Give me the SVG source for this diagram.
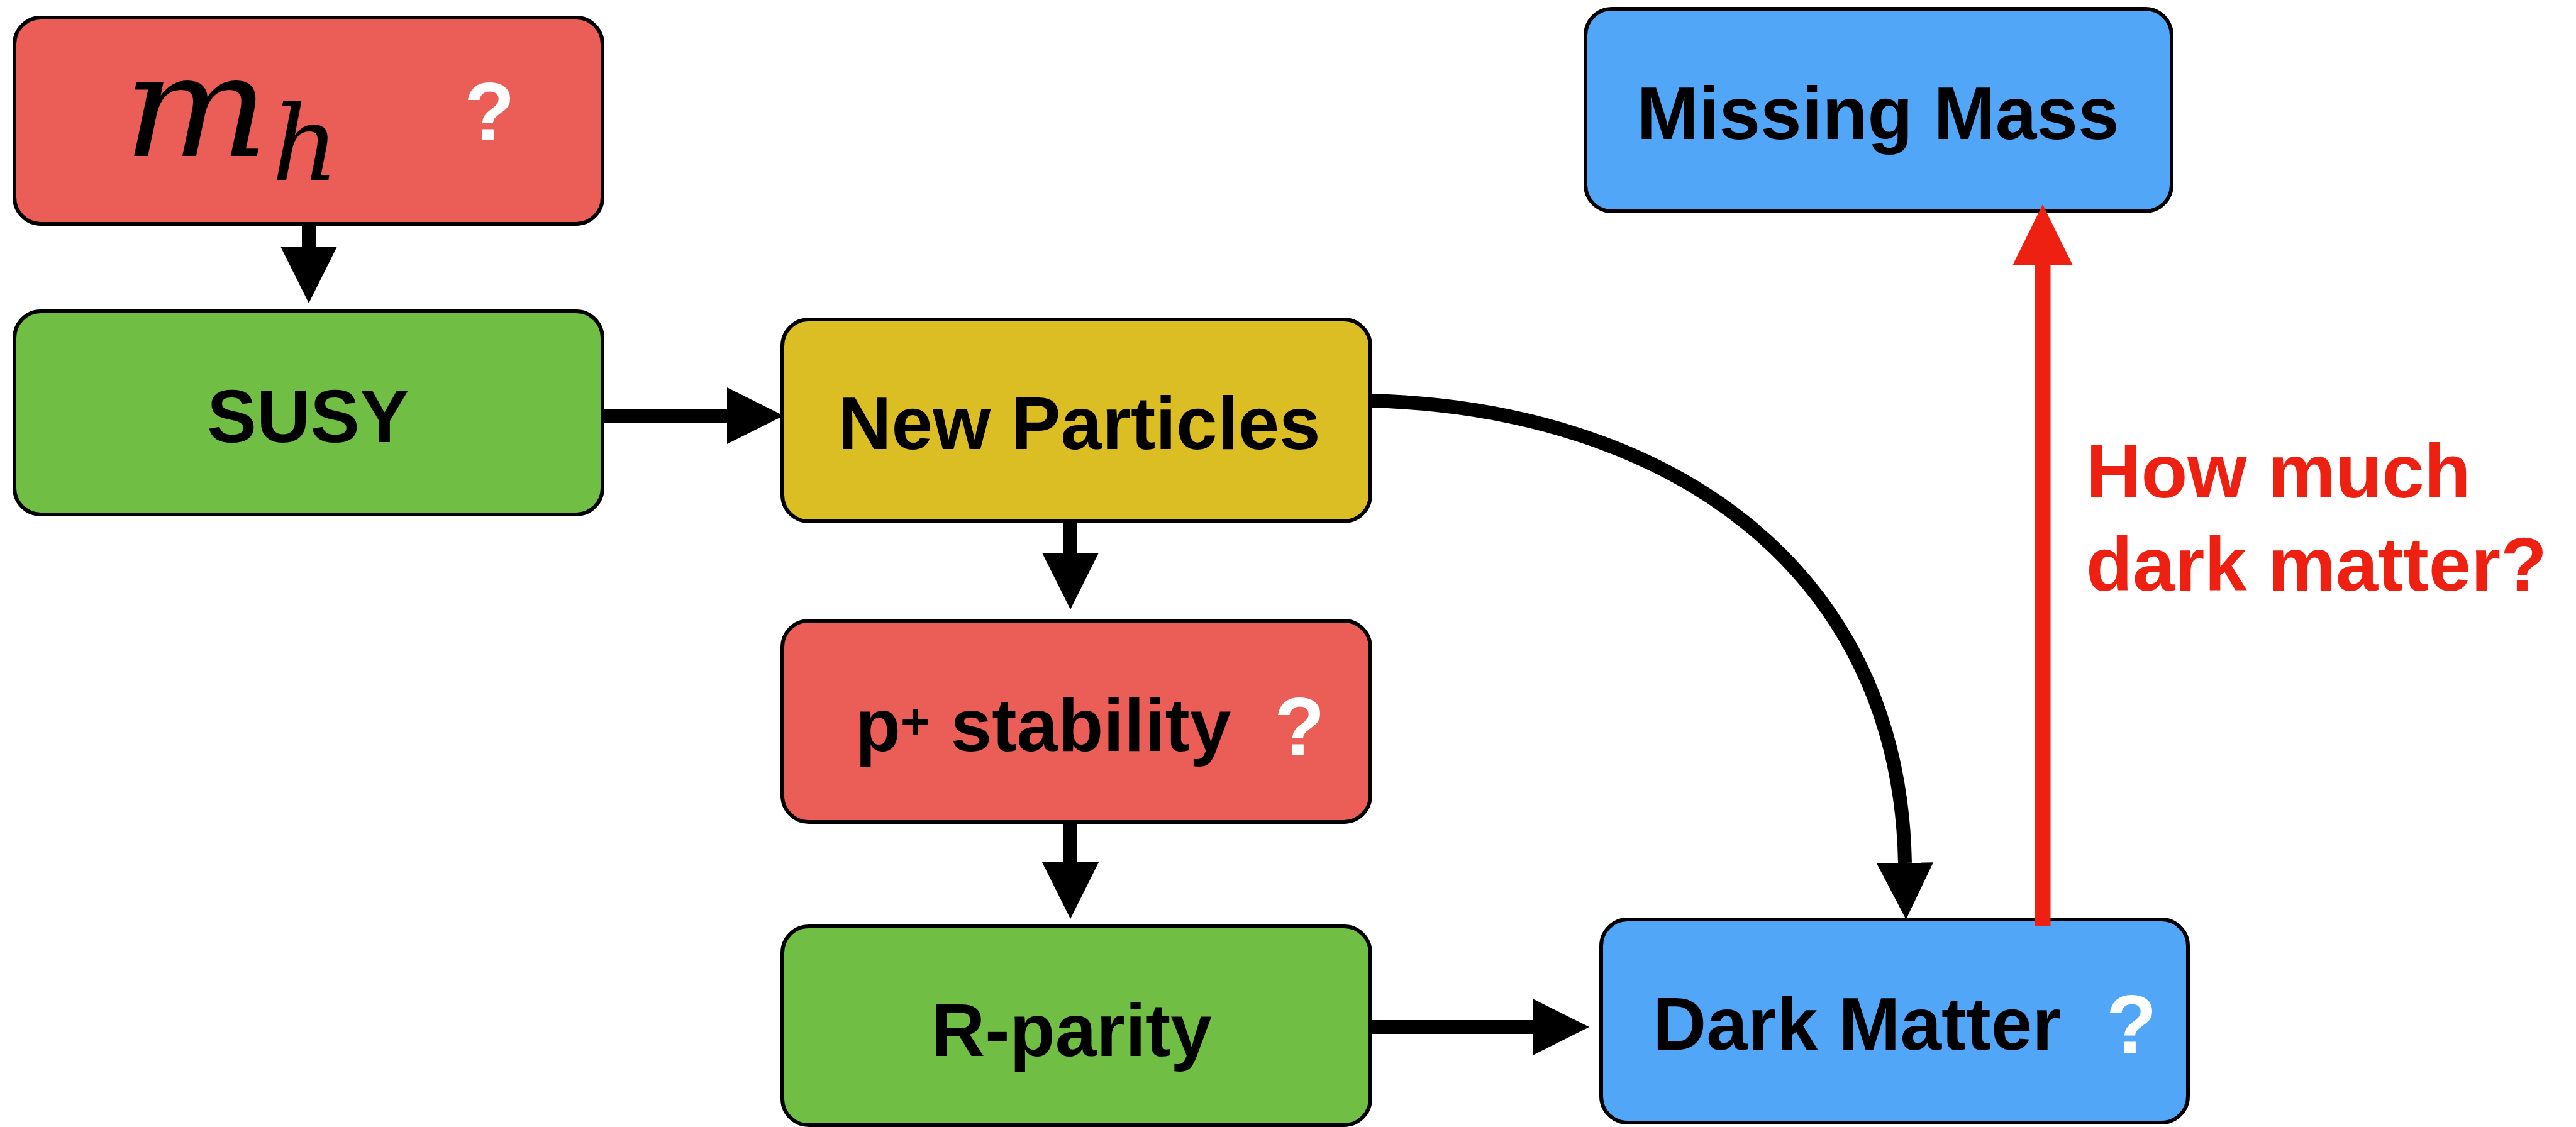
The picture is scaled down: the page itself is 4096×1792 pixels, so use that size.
<svg xmlns="http://www.w3.org/2000/svg" width="4096" height="1792" viewBox="0 0 4096 1792">
<defs>
<style>
.box{stroke:#000;stroke-width:6}
.red{fill:#EB5E58}
.green{fill:#70BE44}
.yellow{fill:#DBBE23}
.blue{fill:#52A6F8}
.lbl{font-family:"Liberation Sans",Arial,Helvetica,sans-serif;font-weight:bold;font-size:118px;fill:#000}
.q{font-family:"Liberation Sans",Arial,Helvetica,sans-serif;font-weight:bold;font-size:132px;fill:#fff}
.math{font-family:"DejaVu Serif","Liberation Serif",serif;font-style:italic;fill:#000}
.conn{fill:none;stroke:#000;stroke-width:22}
.conn-red{fill:none;stroke:#ED2012;stroke-width:25}
.note{font-family:"Liberation Sans",Arial,Helvetica,sans-serif;font-weight:bold;font-size:121px;fill:#ED2012}
</style>
<marker id="ah" markerUnits="userSpaceOnUse" markerWidth="90" markerHeight="90" viewBox="0 0 86 86" refX="0" refY="43" orient="auto">
<path d="M0,0 L86,43 L0,86 Z" fill="#000"/>
</marker>
<marker id="ahr" markerUnits="userSpaceOnUse" markerWidth="96" markerHeight="96" viewBox="0 0 95 94" refX="0" refY="47" orient="auto">
<path d="M0,0 L95,47 L0,94 Z" fill="#ED2012"/>
</marker>
</defs>
<rect width="4096" height="1792" fill="#fff"/>

<g id="connectors">
<line class="conn" x1="491" y1="356" x2="491" y2="392" marker-end="url(#ah)"/>
<line class="conn" x1="958" y1="661" x2="1156" y2="661" marker-end="url(#ah)"/>
<line class="conn" x1="1702" y1="829" x2="1702" y2="879" marker-end="url(#ah)"/>
<line class="conn" x1="1702" y1="1304" x2="1702" y2="1371" marker-end="url(#ah)"/>
<line class="conn" x1="2178" y1="1633" x2="2437" y2="1633" marker-end="url(#ah)"/>
<path class="conn" d="M2179,637 C2650,650 3020,900 3029,1372" marker-end="url(#ah)"/>
</g>

<g id="node-mh">
<rect class="box red" x="23" y="28" width="935" height="328" rx="42" ry="42"/>
<text class="math" x="196" y="248" font-size="225" textLength="232" lengthAdjust="spacingAndGlyphs">m</text>
<text class="math" x="432" y="287" font-size="166">h</text>
<text class="q" x="738" y="223">?</text>
</g>

<g id="node-susy">
<rect class="box green" x="23" y="495" width="935" height="323" rx="42" ry="42"/>
<text class="lbl" x="490" y="703" text-anchor="middle">SUSY</text>
</g>

<g id="node-newparticles">
<rect class="box yellow" x="1244" y="508" width="935" height="321" rx="42" ry="42"/>
<text class="lbl" x="1716" y="714" text-anchor="middle">New Particles</text>
</g>

<g id="node-pstability">
<rect class="box red" x="1244" y="987" width="935" height="320" rx="42" ry="42"/>
<text class="lbl" x="1360" y="1194">p<tspan font-size="80" dy="-20">+</tspan><tspan dy="20"> stability</tspan></text>
<text class="q" x="2026" y="1201">?</text>
</g>

<g id="node-rparity">
<rect class="box green" x="1244" y="1473" width="935" height="316" rx="42" ry="42"/>
<text class="lbl" x="1704" y="1679" text-anchor="middle">R-parity</text>
</g>

<g id="node-missingmass">
<rect class="box blue" x="2521" y="14" width="932" height="322" rx="42" ry="42"/>
<text class="lbl" x="2986" y="221" text-anchor="middle">Missing Mass</text>
</g>

<g id="node-darkmatter">
<rect class="box blue" x="2546" y="1462" width="933" height="323" rx="42" ry="42"/>
<text class="lbl" x="2628" y="1669">Dark Matter</text>
<text class="q" x="3349" y="1674">?</text>
</g>

<g id="connector-red">
<line class="conn-red" x1="3248" y1="1472" x2="3248" y2="421" marker-end="url(#ahr)"/>
<text class="note" x="3317" y="791">How much</text>
<text class="note" x="3317" y="939">dark matter?</text>
</g>
</svg>
